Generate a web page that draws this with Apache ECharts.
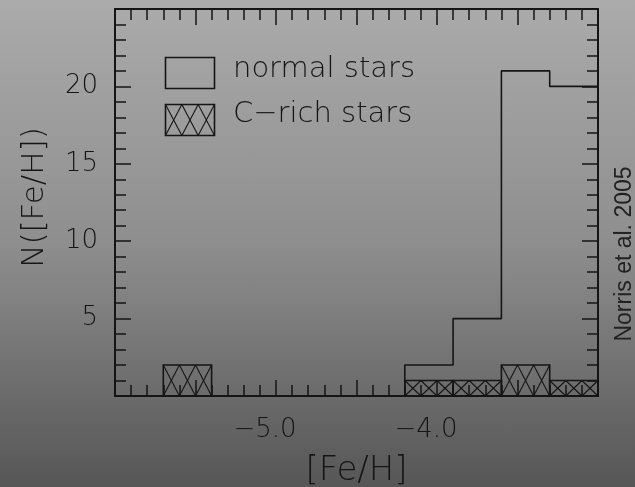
<!DOCTYPE html>
<html>
<head>
<meta charset="utf-8">
<script src="https://cdn.jsdelivr.net/npm/echarts@6/dist/echarts.min.js"></script>
<style>
html,body{margin:0;padding:0;}
#c{width:635px;height:487px;background:linear-gradient(to bottom,#ababab 0%,#8e8e8e 50%,#565656 100%);}
</style>
</head>
<body>
<div id="c"></div>
<script>
// ---- data ----
const xRange = [-6, -3];
const yRange = [0, 25];
const binWidth = 0.3;
const normalBinStarts = [-4.2, -3.9, -3.6, -3.3];
const normalCounts = [2, 5, 21, 20];
const cRichBinStarts = [-5.7, -4.2, -3.9, -3.6, -3.3];
const cRichCounts = [2, 1, 1, 2, 1];
const xTickValues = [-5, -4];
const xTickLabels = ['\u22125.0', '\u22124.0'];
const yTickLabels = [5, 10, 15, 20];
const legendNames = ['normal stars', 'C\u2212rich stars'];
const credit = 'Norris et al. 2005';

// ---- build ----
const normalLine = [];
normalBinStarts.forEach((s, i) => {
  if (i === 0) normalLine.push([s, 0]);
  normalLine.push([s, normalCounts[i]]);
  normalLine.push([s + binWidth, normalCounts[i]]);
});
const cRichData = cRichBinStarts.map((s, i) => [s, s + binWidth, cRichCounts[i]]);

const INK = '#151515';
const FONT = 'DejaVu Sans';

function hatchRender(params, api) {
  const x0 = api.value(0), x1 = api.value(1), n = api.value(2);
  const p0 = api.coord([x0, 0]);
  const p1 = api.coord([x1, n]);
  const children = [];
  const sub = 0.1;
  const nSub = Math.round((x1 - x0) / sub);
  for (let k = 0; k < nSub; k++) {
    const a = api.coord([x0 + k * sub, n]);
    const b = api.coord([x0 + (k + 1) * sub, 0]);
    children.push({type: 'line', shape: {x1: a[0], y1: a[1], x2: b[0], y2: b[1]}, style: {stroke: INK, lineWidth: 1.1}});
    children.push({type: 'line', shape: {x1: b[0], y1: a[1], x2: a[0], y2: b[1]}, style: {stroke: INK, lineWidth: 1.1}});
  }
  children.push({type: 'rect', shape: {x: p0[0], y: p1[1], width: p1[0] - p0[0], height: p0[1] - p1[1]}, style: {fill: null, stroke: INK, lineWidth: 1.6}});
  return {type: 'group', children: children};
}

function legendHatch(x, y, w, h, n) {
  const out = [];
  const cw = w / n;
  for (let k = 0; k < n; k++) {
    out.push({type: 'line', shape: {x1: x + k * cw, y1: y, x2: x + (k + 1) * cw, y2: y + h}, style: {stroke: INK, lineWidth: 1.1}});
    out.push({type: 'line', shape: {x1: x + (k + 1) * cw, y1: y, x2: x + k * cw, y2: y + h}, style: {stroke: INK, lineWidth: 1.1}});
  }
  out.push({type: 'rect', shape: {x: x, y: y, width: w, height: h}, style: {fill: null, stroke: INK, lineWidth: 1.6}});
  return out;
}

const tickCommon = {
  axisLine: {show: true, onZero: false, lineStyle: {color: INK, width: 2}},
  axisTick: {show: true, inside: true, length: 16, lineStyle: {color: INK, width: 1.5}},
  minorTick: {show: true, splitNumber: 5, length: 11, lineStyle: {color: INK, width: 1.5}},
  splitLine: {show: false},
  minorSplitLine: {show: false}
};

const chart = echarts.init(document.getElementById('c'), null, {renderer: 'canvas'});
chart.setOption({
  backgroundColor: 'transparent',
  animation: false,
  grid: {left: 115, right: 37, top: 9, bottom: 91, containLabel: false, outerBoundsMode: 'none'},
  xAxis: [
    Object.assign({
      type: 'value', min: xRange[0], max: xRange[1], interval: 0.5, position: 'bottom',
      name: '[Fe/H]', nameLocation: 'middle', nameGap: 58,
      nameTextStyle: {fontFamily: FONT, fontSize: 34, fontWeight: 200, color: INK},
      axisLabel: {
        show: true, margin: 21, fontFamily: FONT, fontSize: 26, fontWeight: 200, color: INK,
        padding: [0, 22, 0, 0],
        formatter: v => {
          const i = xTickValues.findIndex(t => Math.abs(t - v) < 1e-6);
          return i >= 0 ? xTickLabels[i] : '';
        }
      }
    }, tickCommon),
    Object.assign({
      type: 'value', min: xRange[0], max: xRange[1], interval: 0.5, position: 'top',
      axisLabel: {show: false}
    }, tickCommon)
  ],
  yAxis: [
    Object.assign({
      type: 'value', min: yRange[0], max: yRange[1], interval: 5, position: 'left',
      name: 'N([Fe/H])', nameLocation: 'middle', nameGap: 65,
      nameTextStyle: {fontFamily: FONT, fontSize: 31, fontWeight: 200, color: INK, padding: [0, 0, 0, 10]},
      axisLabel: {
        show: true, margin: 17, fontFamily: FONT, fontSize: 26, fontWeight: 200, color: INK,
        padding: [4, 0, 0, 0],
        formatter: v => (yTickLabels.indexOf(Math.round(v)) >= 0 && Math.abs(v - Math.round(v)) < 1e-6) ? String(Math.round(v)) : ''
      }
    }, tickCommon),
    Object.assign({
      type: 'value', min: yRange[0], max: yRange[1], interval: 5, position: 'right',
      axisLabel: {show: false}
    }, tickCommon)
  ],
  series: [
    {
      name: legendNames[0], type: 'line', data: normalLine, symbol: 'none', xAxisIndex: 0, yAxisIndex: 0,
      lineStyle: {color: INK, width: 1.6}, z: 3
    },
    {
      name: legendNames[1], type: 'custom', data: cRichData, xAxisIndex: 0, yAxisIndex: 0,
      encode: {x: [0, 1], y: 2}, renderItem: hatchRender, z: 4
    }
  ],
  graphic: [
    {type: 'rect', left: 163, top: 55, shape: {width: 49, height: 31}, style: {fill: null, stroke: INK, lineWidth: 1.6}},
    {type: 'group', left: 163, top: 102, children: legendHatch(0, 0, 49, 31, 3)},
    {type: 'text', left: 233, top: 55, style: {text: legendNames[0], font: '200 29px "DejaVu Sans"', fill: INK}},
    {type: 'text', left: 233, top: 100, style: {text: legendNames[1], font: '200 29px "DejaVu Sans"', fill: INK}},
    {type: 'text', x: 625, y: 254, rotation: Math.PI / 2,
      style: {text: credit, font: '23px "Liberation Sans"', fill: '#222', align: 'center', verticalAlign: 'middle'}}
  ]
});
</script>
</body>
</html>
